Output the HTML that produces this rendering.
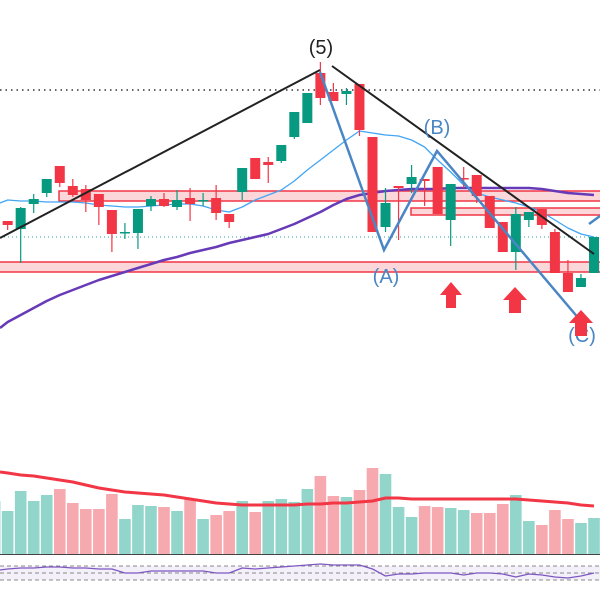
<!DOCTYPE html>
<html><head><meta charset="utf-8"><style>
html,body{margin:0;padding:0;background:#fff;width:600px;height:600px;overflow:hidden}
svg{display:block;font-family:"Liberation Sans",sans-serif}
</style></head><body>
<svg id="chart" width="600" height="600" viewBox="0 0 600 600" xmlns="http://www.w3.org/2000/svg">
<g id="zones">
<rect x="59" y="191" width="545" height="10" fill="rgba(242,54,69,0.2)" stroke="#f23645" stroke-width="1.5"/>
<rect x="411" y="208" width="193" height="7" fill="rgba(242,54,69,0.2)" stroke="#f23645" stroke-width="1.5"/>
<rect x="-4" y="262" width="608" height="10" fill="rgba(242,54,69,0.2)" stroke="#f23645" stroke-width="1.5"/>
</g>
<line x1="0" y1="90" x2="600" y2="90" stroke="#333" stroke-width="1.5" stroke-dasharray="1.5,4"/>
<line x1="0" y1="237" x2="600" y2="237" stroke="#26a69a" stroke-width="1" stroke-dasharray="1,3"/>
<g id="mas"></g>
<g id="candles"></g>
<g id="draw">
<polyline points="0,238 320,70" fill="none" stroke="#222" stroke-width="2"/>
<polyline points="332,66 594,254" fill="none" stroke="#222" stroke-width="2"/>
<polyline points="320,72 384,250 437,151 580,320" fill="none" stroke="#4a86c5" stroke-width="2.5"/>
<polyline points="589,224 600,216" fill="none" stroke="#4a86c5" stroke-width="2.5"/>
<text x="321" y="54" font-size="20" text-anchor="middle" fill="#222">(5)</text>
<text x="386" y="283" font-size="20" text-anchor="middle" fill="#4a86c5">(A)</text>
<text x="437" y="134" font-size="20" text-anchor="middle" fill="#4a86c5">(B)</text>
<text x="582" y="342" font-size="20" text-anchor="middle" fill="#4a86c5">(C)</text>
<path d="M451,282 L462,295 L456,295 L456,308 L446,308 L446,295 L440,295 Z" fill="#f23645"/>
<path d="M515,287 L527,300 L521,300 L521,313 L509,313 L509,300 L503,300 Z" fill="#f23645"/>
<path d="M581,310 L593,323 L587,323 L587,336 L575,336 L575,323 L569,323 Z" fill="#f23645"/>
</g>
<g id="vol"></g>
<line x1="0" y1="554.5" x2="600" y2="554.5" stroke="#444" stroke-width="1"/>
<g id="osc">
<rect x="0" y="566" width="600" height="14" fill="rgba(103,58,183,0.08)"/>
<line x1="0" y1="566" x2="600" y2="566" stroke="#888" stroke-dasharray="4,3"/>
<line x1="0" y1="573" x2="600" y2="573" stroke="#888" stroke-dasharray="4,3"/>
<line x1="0" y1="580" x2="600" y2="580" stroke="#888" stroke-dasharray="4,3"/>
</g>
</svg>
<script>
// candles [open, high, low, close], index 1..46
const candles = [
[27.9,27.9,27.0,27.5],[27.1,29.3,23.7,29.2],[29.6,30.6,28.7,30.1],[30.7,32.1,30.3,32.1],
[33.4,33.4,31.3,31.7],[31.4,32.1,30.3,30.5],[31.1,31.5,28.8,30.0],[30.6,30.6,27.5,29.3],
[29.0,29.0,24.8,26.6],[26.7,27.7,26.1,26.8],[26.7,29.1,25.1,29.1],[29.4,30.4,28.9,30.1],
[30.1,30.7,29.3,29.4],[29.3,31.0,29.0,30.0],[30.2,31.2,27.9,29.6],[29.9,30.7,29.4,30.0],
[30.2,31.5,28.0,28.7],[28.6,28.6,27.2,27.8],[30.8,33.2,30.0,33.2],[34.2,34.2,32.1,32.1],
[33.8,34.3,31.7,33.5],[33.9,35.5,33.7,35.5],[36.3,38.8,36.1,38.8],[37.7,40.7,37.7,40.7],
[42.7,43.8,39.5,40.2],[40.8,41.7,39.9,39.9],[40.6,41.2,39.5,40.9],[41.6,41.6,36.4,37.0],
[36.3,36.3,26.8,26.8],[27.3,31.2,26.8,29.7],[31.4,31.4,26.0,31.2],[31.6,33.5,30.7,32.3],
[32.1,32.1,29.4,31.9],[33.3,33.3,28.6,28.6],[28.0,31.6,25.4,31.6],[32.2,33.3,31.2,32.1],
[32.5,32.5,29.7,30.4],[30.4,30.4,27.2,27.2],[27.8,27.8,24.8,24.8],[24.8,29.3,23.0,28.6],
[28.0,28.8,27.3,28.8],[29.1,29.1,27.1,27.5],[26.8,27.1,22.7,22.7],[22.7,24.0,20.8,20.8],
[21.3,22.6,21.3,22.2],[22.7,26.3,22.7,26.3]];
// moving averages, index 0..46
const fastMA = [29.7,30.0,29.9,29.9,29.8,29.8,29.8,29.7,29.5,29.4,29.3,29.3,29.4,29.5,29.6,29.6,29.4,29.0,28.8,29.3,30.0,30.5,31.0,31.9,33.0,34.0,35.0,36.0,36.9,36.7,36.5,36.4,36.0,35.3,34.0,32.8,31.5,30.7,30.3,30.0,29.7,29.3,28.8,28.0,27.2,26.6,26.3];
const slowMA = [17.2,17.8,18.5,19.2,19.9,20.5,21.0,21.5,22.0,22.4,22.8,23.2,23.6,24.0,24.3,24.7,25.0,25.3,25.7,26.0,26.3,26.6,27.1,27.6,28.2,28.8,29.5,30.1,30.5,30.7,30.9,31.0,31.1,31.1,31.1,31.2,31.2,31.2,31.2,31.2,31.2,31.2,31.1,30.9,30.7,30.6,30.5];
// volume index 0..46
const volume = [53,43,63,53,59,65,51,45,45,60,35,49,48,47,43,55,35,39,43,53,42,53,55,52,65,78,58,57,64,86,80,47,37,48,47,46,44,41,41,50,59,33,29,44,35,31,36];
const volUp = [1,1,1,1,1,0,0,0,0,0,1,1,1,0,1,0,1,0,0,1,0,1,1,1,1,0,0,1,0,0,1,1,1,0,0,1,1,0,0,0,1,1,0,0,0,1,1];
const volMA = [82,81,79,78,76,74,72,69,66,64,62,61,60,59,57,55,53,51,50,49,49,49,49,49,50,50,51,51,52,53,56,56,55,55,55,55,55,55,55,55,55,54,53,52,51,49,48];
const osc = [58.6,61.4,64.3,64.3,67.1,67.1,64.3,64.3,61.4,61.4,50,50,55.7,55.7,55.7,55.7,55.7,50,50,64.3,61.4,64.3,67.1,70,72.9,75.7,72.9,72.9,72.9,61.4,41.4,47.1,47.1,50,50,50,44.3,50,50,47.1,38.6,47.1,44.3,38.6,35.7,41.4,50];

const NS='http://www.w3.org/2000/svg';
function xAt(i){return 7.65+13.03*(i-1);}
function yP(p){return 500-10*p;}
function yV(v){return 554-v;}
function yO(v){return 580-(v-30)*14/40;}
function mk(tag,attrs,parent){const e=document.createElementNS(NS,tag);for(const k in attrs)e.setAttribute(k,attrs[k]);parent.appendChild(e);return e;}

const cg=document.getElementById('candles');
candles.forEach((c,k)=>{
  const i=k+1,x=xAt(i),up=c[3]>=c[0],col=up?'#089981':'#f23645';
  const g=mk('g',{},cg);
  
  
  mk('line',{x1:x,x2:x,y1:yP(c[1]),y2:yP(c[2]),stroke:col,'stroke-width':1.2},g);
  const t=yP(Math.max(c[0],c[3])),b=yP(Math.min(c[0],c[3]));
  mk('rect',{x:x-5,y:t,width:10,height:Math.max(1.5,b-t),fill:col},g);
});

const mg=document.getElementById('mas');
function line(arr,start,fy,attrs,parent,name){
  const pts=arr.map((v,k)=>Math.max(0,xAt(k+start)).toFixed(1)+','+fy(v).toFixed(1)).join(' ');
  const e=mk('polyline',Object.assign({points:pts,fill:'none','stroke-linejoin':'round'},attrs),parent);
  
  
}
line(slowMA,0,yP,{stroke:'#673ab7','stroke-width':2.5},mg,'slow-ma');
line(fastMA,0,yP,{stroke:'#42a5f5','stroke-width':1.3},mg,'fast-ma');

const vg=document.getElementById('vol');
volume.forEach((v,i)=>{
  const r=mk('rect',{x:xAt(i)-5.8,y:yV(v),width:11.6,height:v,fill:volUp[i]?'#92d5cb':'#f7a9b0'},vg);
  
  
});
line(volMA,0,yV,{stroke:'#f23645','stroke-width':3},vg,'volume-ma');
line(osc,0,yO,{stroke:'#7e57c2','stroke-width':1.3},document.getElementById('osc'),'oscillator-line');
</script>
</body></html>
